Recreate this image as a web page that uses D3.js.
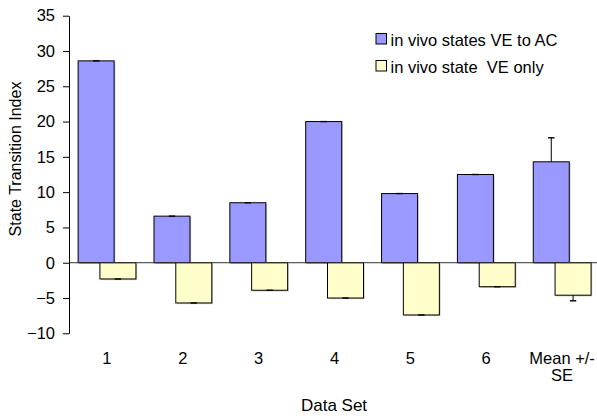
<!DOCTYPE html>
<html>
<head>
<meta charset="utf-8">
<script src="https://cdn.jsdelivr.net/npm/d3@7/dist/d3.min.js"></script>
<style>
  html, body { margin: 0; padding: 0; background: #fff; }
  svg { display: block; font-family: "Liberation Sans", Arial, sans-serif; }
  text { white-space: pre; }
</style>
</head>
<body>
<svg id="chart" width="597" height="416"></svg>
<script>
// Data sets and their summary
const categories = ["1", "2", "3", "4", "5", "6", "Mean +/- SE"];
const seriesNames = ["in vivo states VE to AC", "in vivo state  VE only"];
const veToAc = [28.6, 6.6, 8.5, 20.0, 9.8, 12.5, 14.3];
const veToAcErr = [0, 0, 0, 0, 0, 0, 3.4];
const veOnly = [-2.3, -5.7, -3.9, -5.0, -7.4, -3.4, -4.6];
const veOnlyErr = [0, 0, 0, 0, 0, 0, 0.8];
const yTicks = [-10, -5, 0, 5, 10, 15, 20, 25, 30, 35];

const colors = ["#9999ff", "#ffffcc"];

const svg = d3.select("#chart");
const margin = { left: 69, top: 15.7, right: 600, bottom: 333.3 };

const x = d3.scaleBand().domain(categories).range([margin.left, margin.right]);
const y = d3.scaleLinear().domain([-10, 35]).range([margin.bottom, margin.top]);

const barW = 36;
// offsets of the two bars relative to the band centre (bars overlap)
const offsets = [-28.8, -7];

const plot = svg.append("g");

const series = [
  { values: veToAc, errs: veToAcErr, color: colors[0], off: offsets[0], dir: 1 },
  { values: veOnly, errs: veOnlyErr, color: colors[1], off: offsets[1], dir: -1 }
];

series.forEach(s => {
  const g = plot.append("g");
  categories.forEach((c, i) => {
    const cx = x(c) + x.bandwidth() / 2;
    const v = s.values[i];
    const x0 = cx + s.off;
    const yTop = y(Math.max(0, v));
    const yBot = y(Math.min(0, v));
    // soft shadow
    g.append("rect")
      .attr("x", x0 + 1.2).attr("y", yTop + 1.2)
      .attr("width", barW).attr("height", yBot - yTop)
      .attr("fill", "#9a9a9a").attr("opacity", 0.55);
    g.append("rect")
      .attr("x", x0).attr("y", yTop)
      .attr("width", barW).attr("height", yBot - yTop)
      .attr("fill", s.color)
      .attr("stroke", "#000").attr("stroke-width", 1);
    // error bar (one-sided, away from zero)
    const ex = x0 + barW / 2;
    const yEnd = y(v + s.dir * s.errs[i]);
    const yStart = y(v);
    if (s.errs[i] > 0) {
      g.append("line").attr("x1", ex).attr("x2", ex)
        .attr("y1", yStart).attr("y2", yEnd)
        .attr("stroke", "#000").attr("stroke-width", 1);
    }
    g.append("line").attr("x1", ex - 3.2).attr("x2", ex + 3.2)
      .attr("y1", yEnd).attr("y2", yEnd)
      .attr("stroke", "#000").attr("stroke-width", 1.4);
  });
});

// zero line across the plot
plot.append("line")
  .attr("x1", margin.left).attr("x2", margin.right)
  .attr("y1", y(0)).attr("y2", y(0))
  .attr("stroke", "#333").attr("stroke-width", 1);

// y axis
const yAxis = svg.append("g")
  .attr("transform", `translate(${margin.left},0)`)
  .call(d3.axisLeft(y).tickValues(yTicks).tickSize(6).tickPadding(8).tickSizeOuter(0));
yAxis.select(".domain").attr("stroke", "#000");
yAxis.selectAll(".tick line").attr("stroke", "#000");
yAxis.selectAll(".tick text")
  .attr("fill", "#000")
  .style("font-size", "16.5px")
  .style("font-family", "'Liberation Sans', Arial, sans-serif");

// category labels
const labelG = svg.append("g");
categories.forEach(c => {
  const cx = x(c) + x.bandwidth() / 2;
  const lines = c === "Mean +/- SE" ? ["Mean +/-", "SE"] : [c];
  const t = labelG.append("text")
    .attr("x", cx).attr("y", 364)
    .attr("text-anchor", "middle")
    .style("font-size", "16.5px");
  lines.forEach((ln, k) => {
    t.append("tspan").attr("x", cx).attr("dy", k === 0 ? 0 : 17).text(ln);
  });
});

// axis titles
svg.append("text")
  .attr("x", 334).attr("y", 410.5)
  .attr("text-anchor", "middle")
  .style("font-size", "17px")
  .text("Data Set");

svg.append("text")
  .attr("transform", "translate(21,159) rotate(-90)")
  .attr("text-anchor", "middle")
  .style("font-size", "16px")
  .text("State Transition Index");

// legend
const legend = svg.append("g").attr("transform", "translate(375.5,33)");
seriesNames.forEach((name, i) => {
  const row = legend.append("g").attr("transform", `translate(0,${i * 27})`);
  row.append("rect")
    .attr("x", 0.5).attr("y", 0.5).attr("width", 10.5).attr("height", 10.5)
    .attr("fill", colors[i]).attr("stroke", "#000").attr("stroke-width", 1);
  row.append("text")
    .attr("x", 15).attr("y", 13)
    .style("font-size", "16.5px")
    .text(name);
});
</script>
</body>
</html>
